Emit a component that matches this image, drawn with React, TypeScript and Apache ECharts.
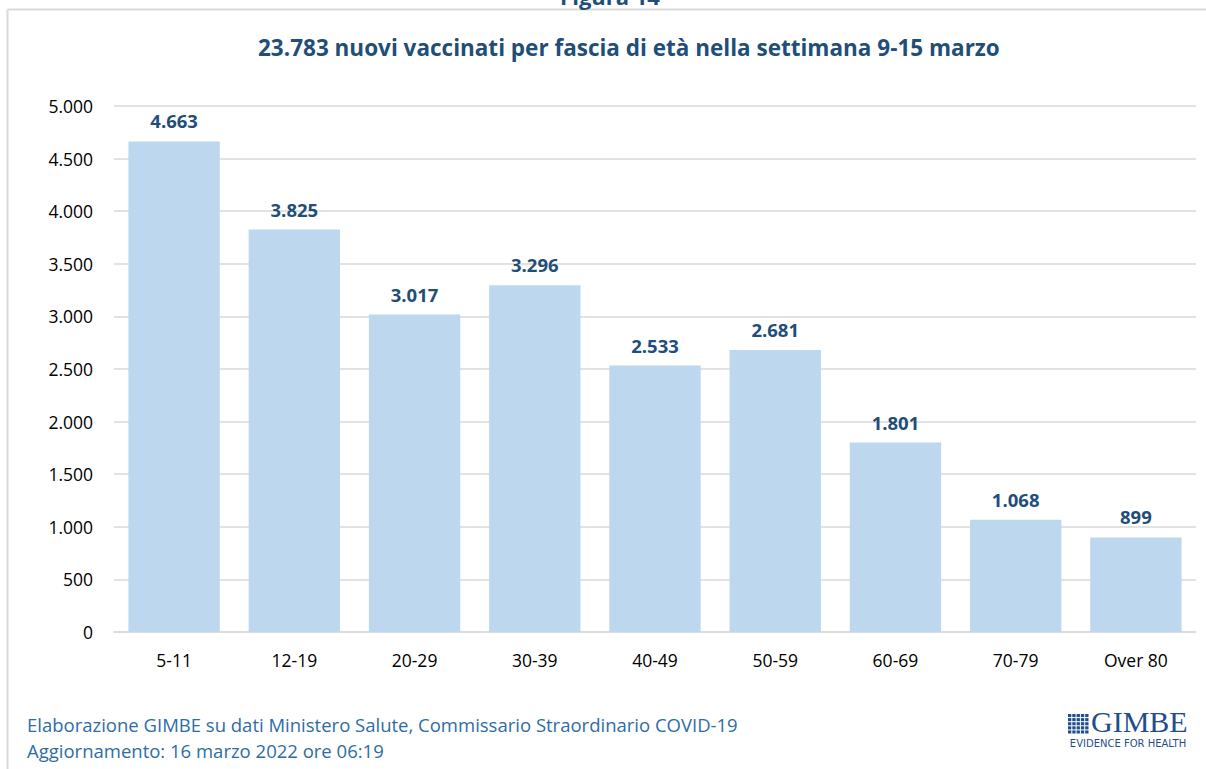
import React, { useEffect, useRef } from "react";
import * as echarts from "echarts";

const categories = ["5-11", "12-19", "20-29", "30-39", "40-49", "50-59", "60-69", "70-79", "Over 80"];
const values = [4663, 3825, 3017, 3296, 2533, 2681, 1801, 1068, 899];
const titleText = "23.783 nuovi vaccinati per fascia di età nella settimana 9-15 marzo";
const figureText = "Figura 14";
const footerLines = [
  "Elaborazione GIMBE su dati Ministero Salute, Commissario Straordinario COVID-19",
  "Aggiornamento: 16 marzo 2022 ore 06:19",
];

const fmt = (v: number) => String(v).replace(/\B(?=(\d{3})+(?!\d))/g, ".");

const FONT = "'Open Sans', 'Noto Sans', sans-serif";
const DARK = "#1F4E79";

export default function App() {
  const ref = useRef<HTMLDivElement>(null);
  useEffect(() => {
    if (!ref.current) return;
    const chart = echarts.init(ref.current, undefined, { renderer: "svg" });
    const logoSquares: any[] = [];
    for (let r = 0; r < 5; r++) {
      for (let c = 0; c < 5; c++) {
        logoSquares.push({
          type: "rect",
          shape: { x: 1068 + c * 4.3, y: 714 + r * 4.1, width: 3.3, height: 3.1 },
          style: { fill: "#1F4E8C" },
        });
      }
    }
    chart.setOption({
      animation: false,
      backgroundColor: "#ffffff",
      title: {
        text: titleText,
        left: 253,
        top: 31,
        textStyle: { fontFamily: FONT, fontWeight: "bold", fontSize: 22.5, color: DARK },
      },
      grid: { left: 114, right: 10, top: 106, bottom: 137, containLabel: false },
      xAxis: {
        type: "category",
        data: categories,
        axisTick: { show: false },
        axisLine: { lineStyle: { color: "#D9D9D9", width: 1.5 } },
        axisLabel: { margin: 19, fontFamily: FONT, fontSize: 17.5, color: "#000" },
      },
      yAxis: {
        type: "value",
        min: 0,
        max: 5000,
        interval: 500,
        axisLine: { show: false },
        axisTick: { show: false },
        splitLine: { lineStyle: { color: "#D9D9D9", width: 1.5 } },
        axisLabel: { margin: 21, fontFamily: FONT, fontSize: 17.5, color: "#000", formatter: (v: number) => fmt(v) },
      },
      series: [
        {
          type: "bar",
          data: values,
          barCategoryGap: "24%",
          itemStyle: { color: "#BDD7EE" },
          label: {
            show: true,
            position: "top",
            distance: 11,
            fontFamily: FONT,
            fontWeight: "bold",
            fontSize: 18.5,
            color: DARK,
            formatter: (p: any) => fmt(p.value),
          },
        },
      ],
      graphic: [
        { type: "line", shape: { x1: 7.5, y1: 9.5, x2: 1206, y2: 9.5 }, style: { stroke: "#D9D9D9", lineWidth: 2 } },
        { type: "line", shape: { x1: 7.5, y1: 9.5, x2: 7.5, y2: 769 }, style: { stroke: "#D9D9D9", lineWidth: 2 } },
        {
          type: "text",
          x: 610,
          y: 7,
          style: { text: figureText, fontFamily: FONT, fontWeight: "bold", fontSize: 22, fill: DARK, align: "center", verticalAlign: "bottom" },
        },
        {
          type: "text",
          x: 27,
          y: 724,
          style: { text: footerLines[0], fontFamily: FONT, fontSize: 18.5, fill: "#2E6DA4", align: "left", verticalAlign: "middle" },
        },
        {
          type: "text",
          x: 27,
          y: 750,
          style: { text: footerLines[1], fontFamily: FONT, fontSize: 18.5, fill: "#2E6DA4", align: "left", verticalAlign: "middle" },
        },
        { type: "group", children: logoSquares },
        {
          type: "text",
          x: 1091,
          y: 736,
          style: { text: "GIMBE", fontFamily: "'Liberation Serif', serif", fontSize: 30, fill: "#1F4E8C", align: "left", verticalAlign: "bottom" },
        },
        {
          type: "text",
          x: 1128,
          y: 743,
          style: { text: "EVIDENCE FOR HEALTH", fontFamily: "'DejaVu Sans', sans-serif", fontSize: 10, fill: "#1F4E8C", align: "center", verticalAlign: "middle" },
        },
      ],
    });
    return () => chart.dispose();
  }, []);
  return <div ref={ref} style={{ position: "fixed", left: 0, top: 0, width: 1206, height: 769 }} />;
}
